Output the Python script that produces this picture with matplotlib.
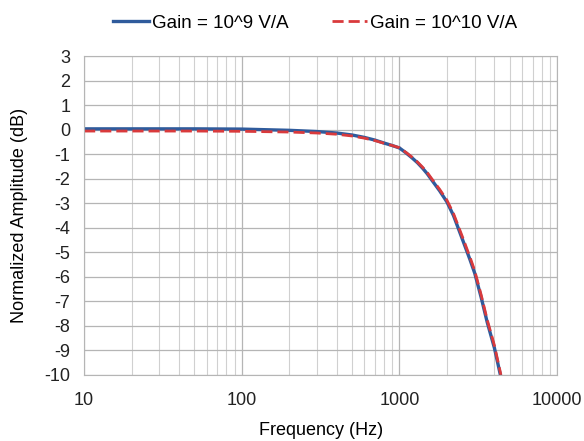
import numpy as np
import matplotlib.pyplot as plt
from matplotlib.ticker import LogLocator, FixedLocator, NullFormatter

plt.rcParams['font.family'] = ['Liberation Sans', 'DejaVu Sans']
plt.rcParams['axes.unicode_minus'] = False

# Frequenz (Hz) und normierte Amplitude (dB)
freq = [10, 20, 50, 100, 200, 300, 400, 500, 600, 700, 800, 900, 1000,
        1100, 1200, 1300, 1400, 1500, 1600, 1800, 2000, 2200, 2500, 2800,
        3000, 3300, 3600, 4000, 4400]
gain_1e9 = [0.03, 0.03, 0.03, 0.02, -0.03, -0.08, -0.14, -0.22, -0.32, -0.43, -0.55, -0.65, -0.75,
            -0.95, -1.15, -1.35, -1.57, -1.8, -2.05, -2.5, -2.95, -3.5, -4.45, -5.3,
            -5.85, -6.85, -7.85, -8.9, -10.1]
gain_1e10 = [-0.06, -0.06, -0.06, -0.07, -0.1, -0.14, -0.19, -0.26, -0.35, -0.45, -0.56, -0.65, -0.74,
             -0.93, -1.12, -1.32, -1.53, -1.75, -2.0, -2.44, -2.88, -3.42, -4.35, -5.2,
             -5.75, -6.75, -7.75, -8.8, -10.0]
labels = ['Gain = 10^9 V/A', 'Gain = 10^10 V/A']

fig = plt.figure(figsize=(5.84, 4.41), dpi=100)
ax = fig.add_axes([0.144, 0.15, 0.81, 0.723])

ax.plot(freq, gain_1e9, color='#2f5b9c', lw=2.4, label=labels[0])
ax.plot(freq, gain_1e10, color='#d93a3c', lw=2.0, ls=(0, (4, 1.8)), label=labels[1])

ax.set_xscale('log')
ax.set_xlim(10, 10000)
ax.set_ylim(-10, 3)
ax.xaxis.set_major_locator(FixedLocator([10, 100, 1000, 10000]))
ax.set_xticklabels(['10', '100', '1000', '10000'])
ax.xaxis.set_minor_locator(LogLocator(base=10, subs=np.arange(2, 10)))
ax.xaxis.set_minor_formatter(NullFormatter())
ax.set_yticks(range(-10, 4))

ax.grid(which='major', color='#b5b5b5', lw=0.9)
ax.grid(which='minor', axis='x', color='#d0d0d0', lw=0.8)
ax.set_axisbelow(True)
for s in ax.spines.values():
    s.set_color('#b5b5b5')
ax.tick_params(which='both', length=0, labelsize=13, colors='#222222')
ax.tick_params(axis='x', pad=12)
ax.tick_params(axis='y', pad=10)

ax.set_xlabel('Frequency (Hz)', fontsize=13, labelpad=10)
ax.set_ylabel('Normalized Amplitude (dB)', fontsize=13, labelpad=12)

fig.legend(loc='upper center', bbox_to_anchor=(0.54, 1.005), ncol=2, frameon=False,
           fontsize=13.5, handlelength=1.9, handletextpad=0.15, columnspacing=2.3)

fig.savefig('out.png', dpi=100)
